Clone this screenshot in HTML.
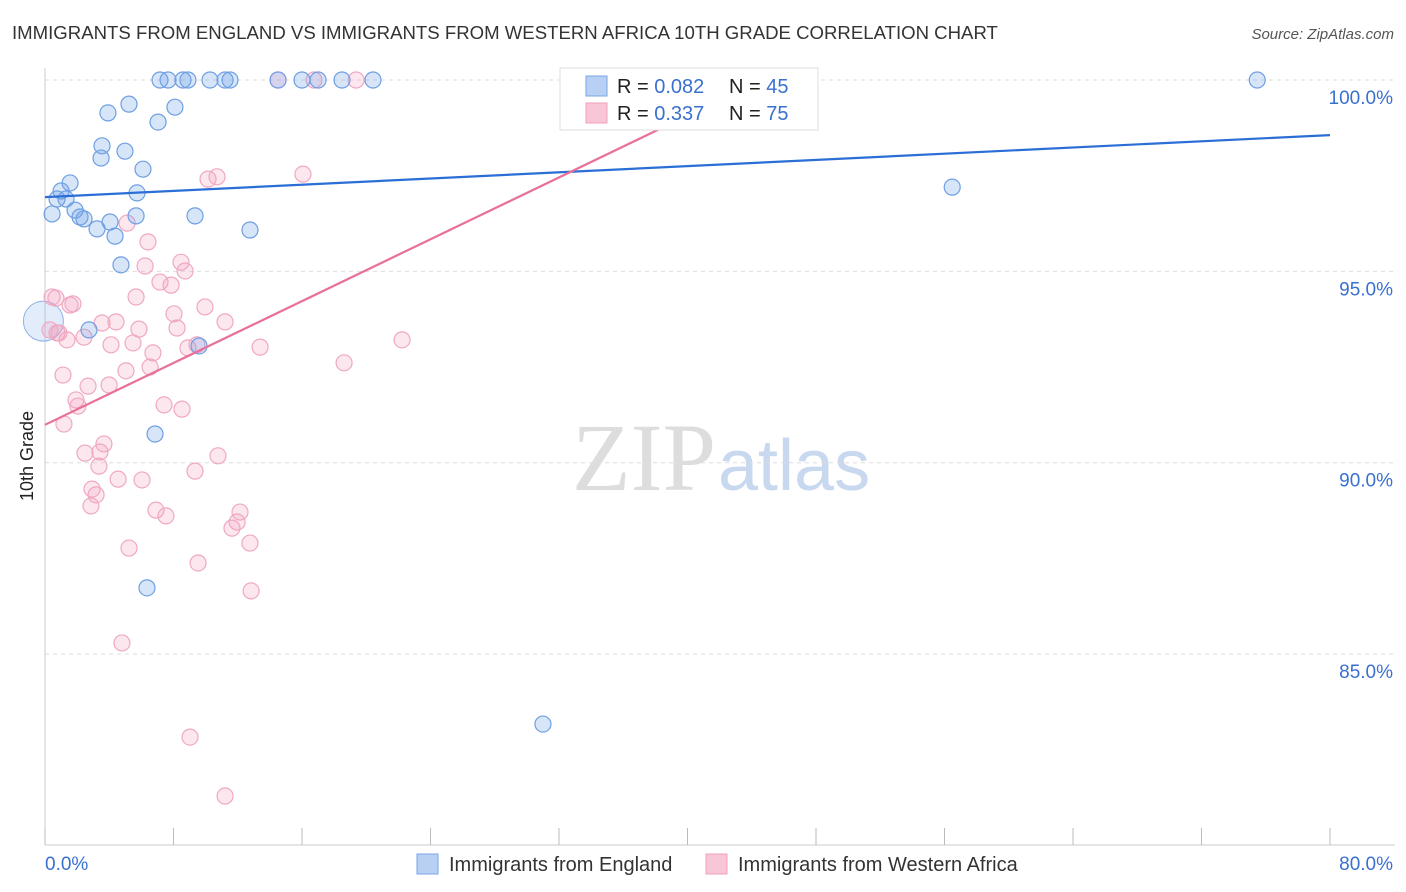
<!DOCTYPE html>
<html><head><meta charset="utf-8"><style>
body{margin:0;background:#fff;font-family:"Liberation Sans",sans-serif;}
svg{display:block}
</style></head><body>
<svg id="chart" width="1406" height="892">
<text x="12" y="39" font-size="18.6" fill="#333">IMMIGRANTS FROM ENGLAND VS IMMIGRANTS FROM WESTERN AFRICA 10TH GRADE CORRELATION CHART</text>
<text x="1394" y="39" font-size="15" fill="#555" font-style="italic" text-anchor="end">Source: ZipAtlas.com</text>
<text x="716" y="490" font-size="96" fill="#ddd" text-anchor="end" font-family="Liberation Serif,serif">ZIP</text>
<text x="718" y="490" font-size="72" fill="#c8d8ef">atlas</text>
<text transform="translate(33,456) rotate(-90)" font-size="18" fill="#222" text-anchor="middle">10th Grade</text>
<g id="grid"></g><g id="ticks"></g><g id="pts"></g><g id="lines"></g>
<g>
<rect x="560" y="68" width="258" height="62" fill="#fff" stroke="#ddd"/>
<rect x="586" y="76" width="21" height="20" fill="#b8d0f4" stroke="#7aa5e4"/>
<rect x="586" y="103" width="21" height="20" fill="#f8c6d6" stroke="#f0a0bd"/>
<text x="617" y="93" font-size="20" fill="#222">R = <tspan fill="#3a70d0">0.082</tspan></text>
<text x="729" y="93" font-size="20" fill="#222">N = <tspan fill="#3a70d0">45</tspan></text>
<text x="617" y="120" font-size="20" fill="#222">R =  <tspan fill="#3a70d0">0.337</tspan></text>
<text x="729" y="120" font-size="20" fill="#222">N = <tspan fill="#3a70d0">75</tspan></text>
</g>
<g>
<rect x="417" y="854" width="21" height="20" fill="#b8d0f4" stroke="#7aa5e4"/>
<text x="449" y="871" font-size="20" fill="#333">Immigrants from England</text>
<rect x="706" y="854" width="21" height="20" fill="#f8c6d6" stroke="#f0a0bd"/>
<text x="738" y="871" font-size="20" fill="#333">Immigrants from Western Africa</text>
</g>
</svg>
<script>
const yTicks=[100,95,90,85];
const xTickLabels=["0.0%","80.0%"];
const blueX=[0.44,1.0,1.56,1.31,0.75,1.87,2.18,2.43,3.24,4.36,4.05,3.49,3.55,3.92,5.23,4.98,5.73,5.67,6.10,7.04,8.09,7.16,7.66,8.59,8.90,10.27,11.21,11.52,14.51,16.0,17.0,18.49,20.42,9.34,12.76,4.73,2.74,9.59,6.85,6.35,31.0,56.48,75.47,33.0];
const blueY=[96.5,97.1,97.31,96.89,96.89,96.6,96.42,96.37,96.11,95.92,96.29,97.96,98.28,99.14,99.37,98.14,97.05,96.45,97.67,98.9,99.29,100,100,100,100,100,100,100,100,100,100,100,100,96.45,96.08,95.17,93.47,93.05,90.75,86.73,83.17,97.2,100,100];
const pinkX=[0.44,0.31,0.75,1.37,1.56,1.74,1.12,2.43,1.18,1.93,2.05,2.68,2.49,3.42,3.36,3.67,2.93,3.18,2.86,4.11,3.55,4.42,3.99,4.55,5.23,4.79,5.04,5.48,5.85,5.67,6.04,6.23,6.41,6.72,6.54,6.91,7.16,7.41,7.53,7.85,8.03,8.22,8.47,8.72,8.53,8.90,9.46,9.34,9.03,9.53,9.96,10.15,10.71,10.77,11.21,11.64,11.96,12.14,12.76,12.83,11.21,13.39,14.51,16.06,16.75,18.62,19.37,22.23,5.11,0.68,0.87,33.0];
const pinkY=[94.33,93.47,93.39,93.21,94.12,94.15,92.29,93.28,91.01,91.64,91.48,92.0,90.25,90.28,89.91,90.49,89.31,89.16,88.87,93.08,93.65,93.68,92.03,89.57,87.77,85.29,92.4,93.13,93.49,94.33,89.55,95.14,95.77,92.87,92.5,88.76,94.72,91.51,88.61,94.64,93.89,93.52,95.24,95.01,91.4,93.0,93.08,89.78,82.83,87.38,94.07,97.41,97.47,90.18,93.68,88.29,88.45,88.71,87.9,86.65,81.29,93.02,100,97.54,100,92.61,100,93.21,96.26,94.3,93.39,100];
const blueTrend=[96.94,98.56];
const pinkTrend=[90.99,99.48];
const pinkTrendEndX=42.03;
const NS="http://www.w3.org/2000/svg";
const X=v=>45+v*(1285/80), Y=v=>80+(100-v)*38.27;
function mk(t,a,p){const e=document.createElementNS(NS,t);for(const k in a)e.setAttribute(k,a[k]);document.getElementById(p).appendChild(e);return e;}
yTicks.forEach(v=>{
 const l=mk('line',{x1:45,x2:1395,y1:Y(v),y2:Y(v),stroke:'#ddd','stroke-dasharray':'4,4'},'grid');
 
 
 const t=mk('text',{x:1393,y:Y(v)+24,'font-size':19,fill:'#3a70d0','text-anchor':'end'},'grid');
 t.textContent=v.toFixed(1)+'%';
 
 
});
mk('line',{x1:45,x2:45,y1:68,y2:845,stroke:'#ccc'},'ticks');
mk('line',{x1:45,x2:1395,y1:845,y2:845,stroke:'#ccc'},'ticks');
for(let i=0;i<=10;i++){const l=mk('line',{x1:X(i*8),x2:X(i*8),y1:828,y2:845,stroke:'#bbb'},'ticks');
 
 }
const t0=mk('text',{x:45,y:870,'font-size':19,fill:'#3a70d0'},'ticks');t0.textContent=xTickLabels[0];


const t1=mk('text',{x:1393,y:870,'font-size':19,fill:'#3a70d0','text-anchor':'end'},'ticks');t1.textContent=xTickLabels[1];


const big=mk('circle',{cx:X(-0.1),cy:Y(93.7),r:20,fill:'rgba(110,160,235,0.2)',stroke:'#8fb3e8'},'pts');


pinkX.forEach((x,i)=>{const c=mk('circle',{cx:X(x),cy:Y(pinkY[i]),r:8,fill:'rgba(244,160,190,0.25)',stroke:'#f0a8c2','stroke-width':1.2},'pts');
 
 });
blueX.forEach((x,i)=>{const c=mk('circle',{cx:X(x),cy:Y(blueY[i]),r:8,fill:'rgba(110,160,235,0.28)',stroke:'#6f9fe2','stroke-width':1.2},'pts');
 
 });
const bl=mk('line',{x1:X(0),y1:Y(blueTrend[0]),x2:X(80),y2:Y(blueTrend[1]),stroke:'#2a6ed6','stroke-width':2.2},'lines');


const pl=mk('line',{x1:X(0),y1:Y(pinkTrend[0]),x2:X(pinkTrendEndX),y2:Y(pinkTrend[1]),stroke:'#e8709a','stroke-width':2.2},'lines');


</script>
</body></html>
